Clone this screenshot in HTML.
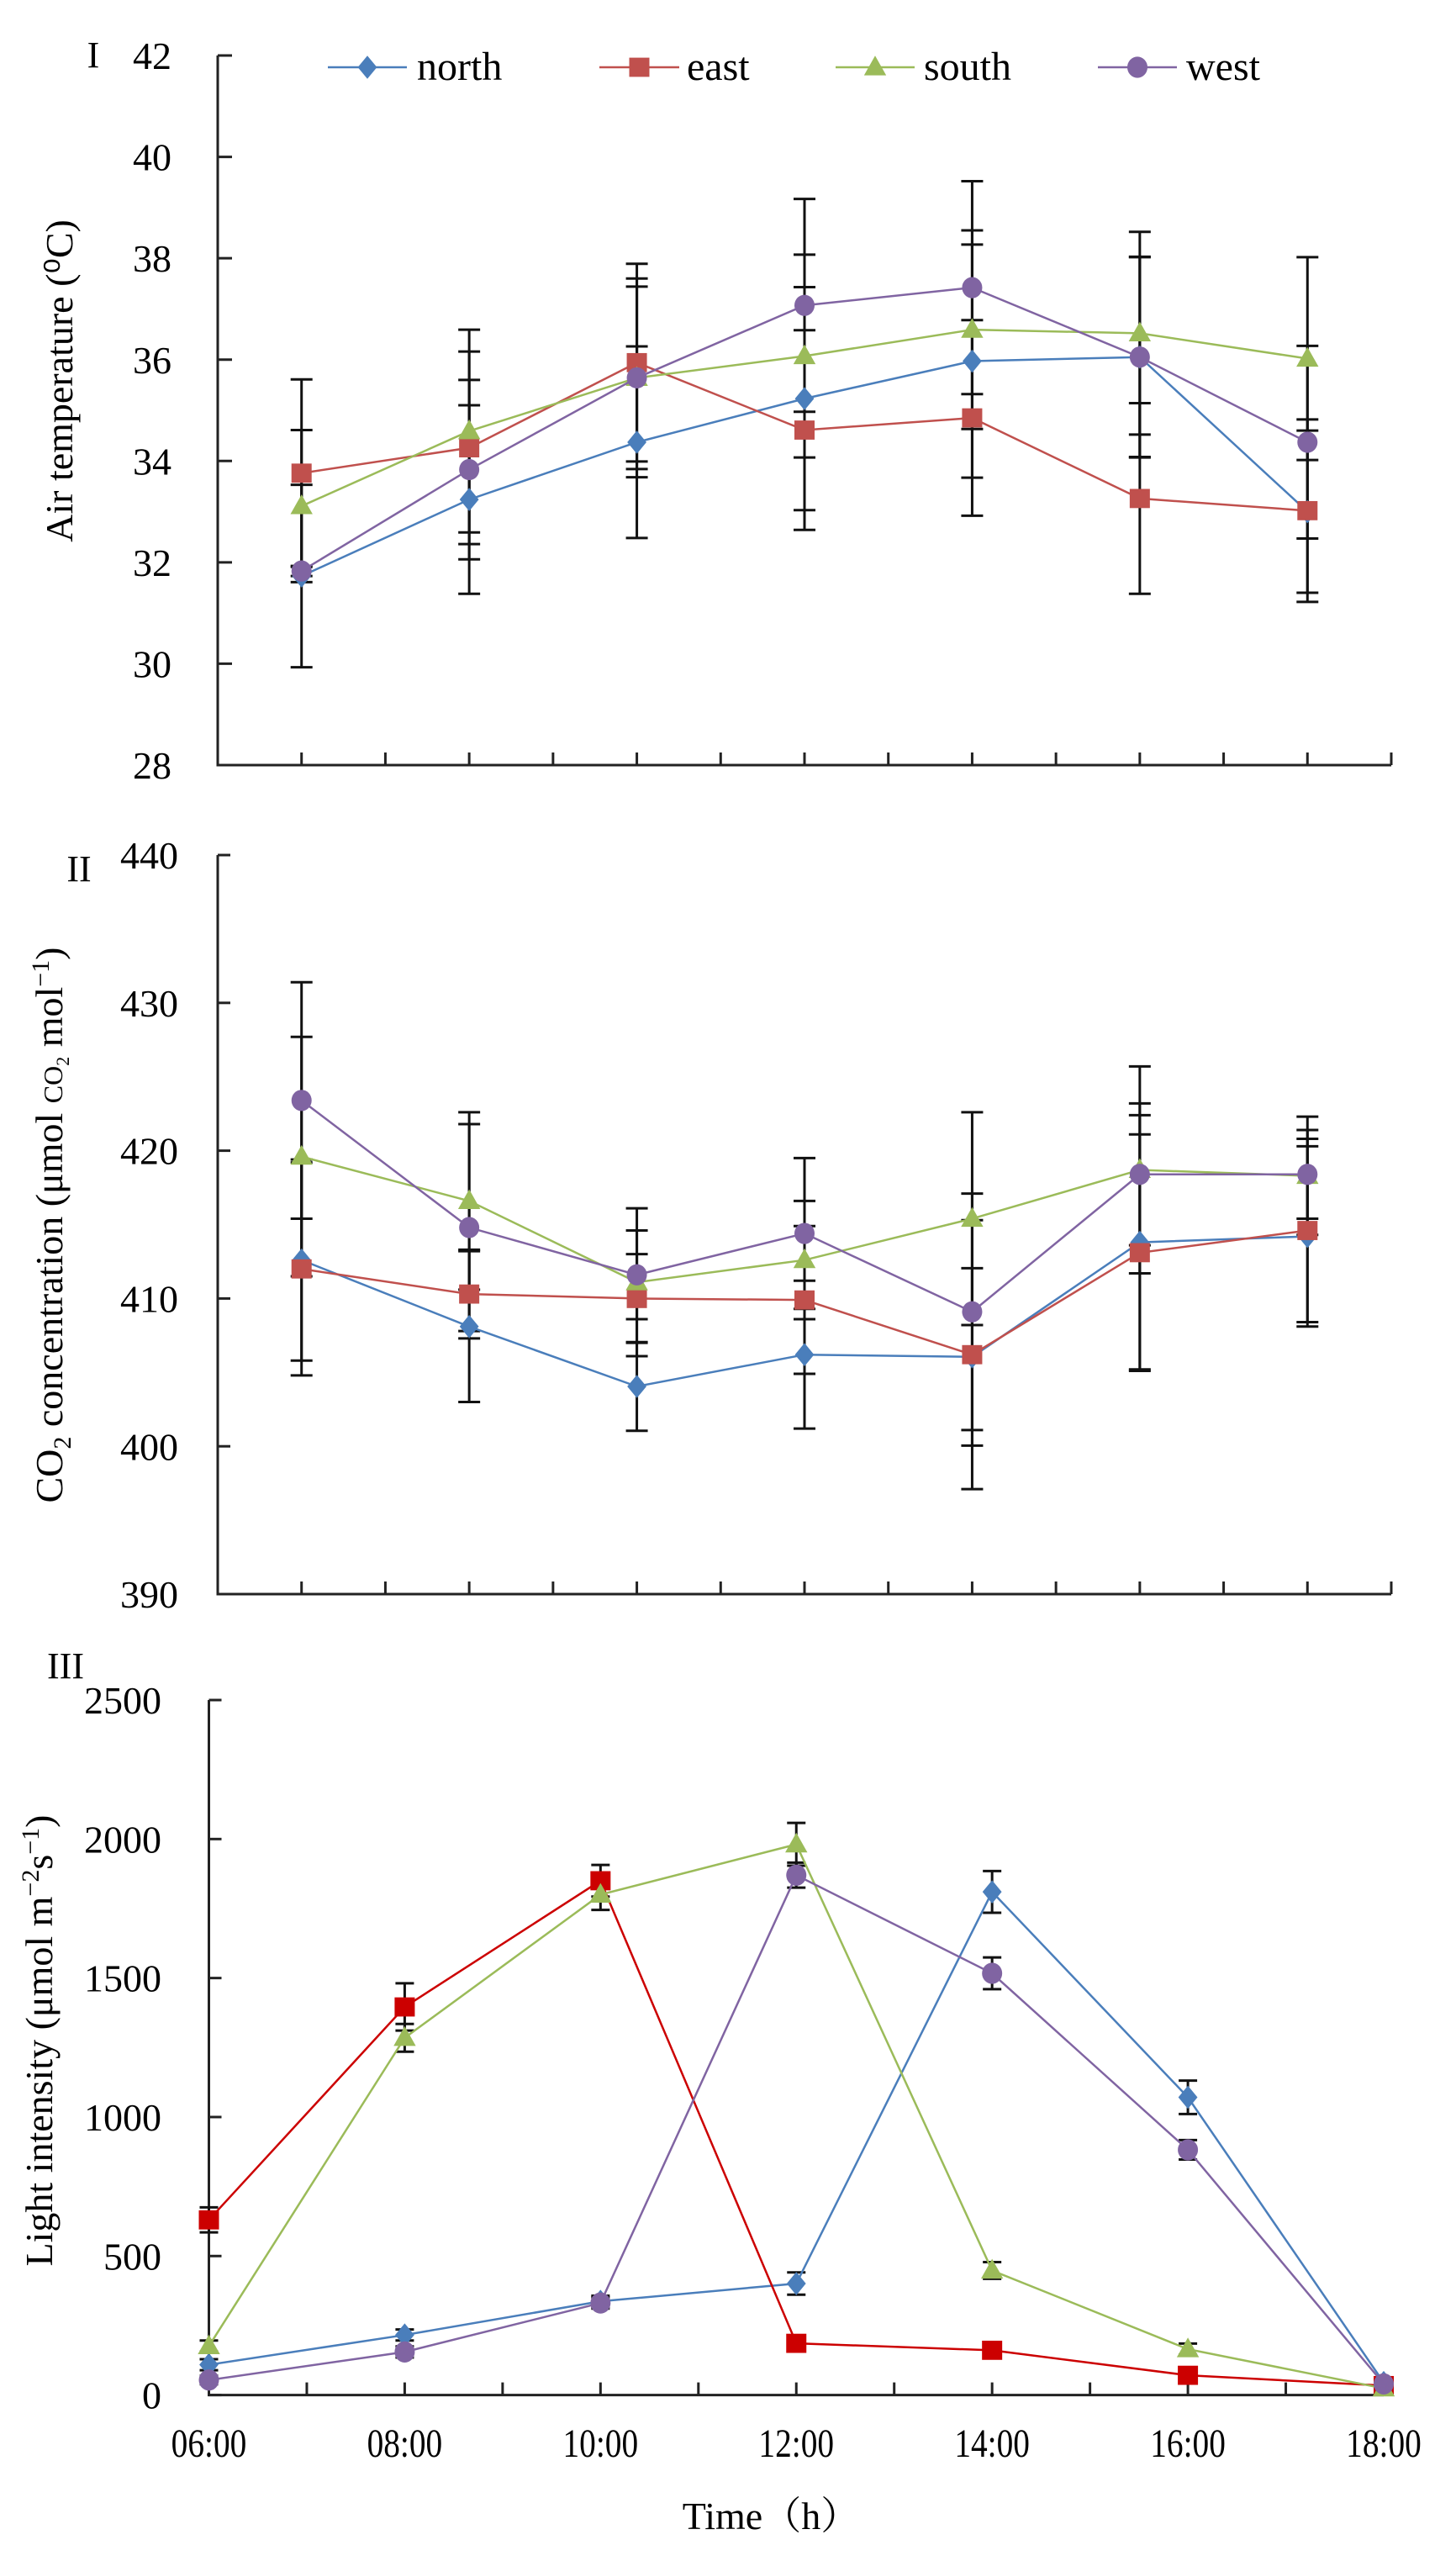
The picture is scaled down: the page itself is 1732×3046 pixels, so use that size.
<!DOCTYPE html>
<html><head><meta charset="utf-8"><style>
html,body{margin:0;padding:0;background:#fff;}
svg{display:block;font-family:"Liberation Serif","Noto Serif CJK SC",serif;}
</style></head><body>
<svg id="chart" width="1732" height="3046" viewBox="0 0 1732 3046" xmlns="http://www.w3.org/2000/svg"></svg>
<script>
// ---------- data ----------
const seriesNames = ["north","east","south","west"];
const seriesColors = ["#4a7ebb","#c0504d","#9bbb59","#8064a2"];
const markers = ["diamond","square","triangle","circle"];

// Panel I: air temperature
const tempNorth = [31.73,33.24,34.37,35.23,35.97,36.05,33.0];
const tempEast  = [33.76,34.26,35.94,34.61,34.85,33.26,33.02];
const tempSouth = [33.11,34.59,35.64,36.07,36.59,36.52,36.02];
const tempWest  = [31.83,33.83,35.64,37.07,37.42,36.05,34.37];
const tempNorthSd = [1.8,1.86,1.89,2.2,2.3,1.97,1.6];
const tempEastSd  = [1.85,1.9,1.95,1.97,1.93,1.88,1.8];
const tempSouthSd = [1.5,2.0,1.96,2.0,1.96,2.0,2.0];
const tempWestSd  = [0.1,1.77,1.8,2.1,2.1,1.98,1.9];
const tempTicks = [28,30,32,34,36,38,40,42];

// Panel II: CO2
const co2North = [412.6,408.1,404.05,406.2,406.05,413.8,414.2];
const co2East  = [412.0,410.3,410.0,409.9,406.2,413.1,414.6];
const co2South = [419.6,416.6,411.1,412.6,415.4,418.7,418.3];
const co2West  = [423.4,414.8,411.6,414.4,409.1,418.4,418.4];
const co2NorthSd = [6.8,5.1,3.0,5.0,6.0,8.6,6.1];
const co2EastSd  = [7.2,3.0,3.0,5.0,9.1,8.0,6.2];
const co2SouthSd = [8.1,6.0,5.0,4.0,7.2,7.0,4.0];
const co2WestSd  = [8.0,7.0,3.0,5.1,8.0,4.8,3.0];
const co2Ticks = [390,400,410,420,430,440];

// Panel III: light intensity
const timeLabels = ["06:00","08:00","10:00","12:00","14:00","16:00","18:00"];
const lightNorth = [109,216,337,401,1810,1071,45];
const lightEast  = [630,1396,1850,186,161,71,34];
const lightSouth = [176,1285,1800,1981,448,165,24];
const lightWest  = [54,155,331,1870,1517,882,40];
const lightNorthSd = [20,20,20,40,75,60,15];
const lightEastSd  = [45,85,57,20,20,15,10];
const lightSouthSd = [20,50,55,77,30,20,10];
const lightWestSd  = [15,20,20,45,57,35,10];
const lightTicks = [0,500,1000,1500,2000,2500];

// ---------- drawing ----------
const NS="http://www.w3.org/2000/svg";
const svg=document.getElementById("chart");
function mk(tag,attrs,parent){const e=document.createElementNS(NS,tag);for(const k in attrs)e.setAttribute(k,attrs[k]);(parent||svg).appendChild(e);return e;}
function txt(s,x,y,size,anchor,parent,extra){const t=mk("text",Object.assign({x:x,y:y,"font-size":size,"text-anchor":anchor||"middle",fill:"#000"},extra||{}),parent);t.textContent=s;return t;}

function marker(g,type,x,y,color,s){
  let e;
  if(type==="diamond")e=mk("polygon",{points:`${x},${y-s*1.15} ${x+s*0.95},${y} ${x},${y+s*1.15} ${x-s*0.95},${y}`,fill:color},g);
  else if(type==="square")e=mk("rect",{x:x-s,y:y-s*0.95,width:2*s,height:1.9*s,fill:color},g);
  else if(type==="triangle")e=mk("polygon",{points:`${x},${y-s*1.15} ${x+s*1.1},${y+s*0.8} ${x-s*1.1},${y+s*0.8}`,fill:color},g);
  else e=mk("ellipse",{cx:x,cy:y,rx:s*1.0,ry:s*1.05,fill:color},g);
  return e;
}

function panel(cfg){
  const g=mk("g",{});
  
  
  const x0=cfg.x0,x1=cfg.x1,yTop=cfg.yTop,yBot=cfg.yBot;
  const ymin=cfg.ticks[0],ymax=cfg.ticks[cfg.ticks.length-1];
  const yS=v=>yBot-(v-ymin)/(ymax-ymin)*(yBot-yTop);
  const xS=cfg.xS;
  const ax=mk("path",{d:`M${x0},${yTop} L${x0},${yBot} L${x1},${yBot}`,stroke:"#222",fill:"none","stroke-width":3},g);
  
  
  cfg.ticks.forEach(v=>{
    const y=yS(v);
    mk("line",{x1:x0,y1:y,x2:x0+cfg.yTickLen,y2:y,stroke:"#222","stroke-width":3},g);
    const t=txt(String(v),cfg.labelX,y+cfg.fs*0.35,cfg.fs,"end",g);
    
    
  });
  cfg.xTicks.forEach(x=>mk("line",{x1:x,y1:yBot,x2:x,y2:yBot-15,stroke:"#222","stroke-width":3},g));
  cfg.series.forEach((vals,si)=>{
    vals.forEach((v,i)=>{
      const sd=cfg.sds[si][i],x=xS(i),ya=yS(v+sd),yb=yS(v-sd),c=cfg.cap;
      const eb=mk("path",{d:`M${x},${ya} L${x},${yb} M${x-c},${ya} L${x+c},${ya} M${x-c},${yb} L${x+c},${yb}`,stroke:"#111","stroke-width":3,fill:"none"},g);
      
      
    });
  });
  cfg.series.forEach((vals,si)=>{
    const col=(cfg.colors||seriesColors)[si];
    const pts=vals.map((v,i)=>xS(i)+","+yS(v)).join(" ");
    const pl=mk("polyline",{points:pts,fill:"none",stroke:col,"stroke-width":2.5},g);
    
    
    vals.forEach((v,i)=>{
      const m=marker(g,markers[si],xS(i),yS(v),col,cfg.ms);
      
      
    });
  });
  return g;
}

// Panel I
const p1x0=259,p1x1=1655,cw1=(p1x1-p1x0)/7;
const ticksHalf1=[];for(let i=0;i<=14;i++)ticksHalf1.push(p1x0+i*cw1/2);
panel({name:"panel-air-temperature",x0:p1x0,x1:p1x1,yTop:66,yBot:910,ticks:tempTicks,
  series:[tempNorth,tempEast,tempSouth,tempWest],sds:[tempNorthSd,tempEastSd,tempSouthSd,tempWestSd],
  xS:i=>p1x0+cw1*(i+0.5),xTicks:ticksHalf1.slice(1),yTickLen:17,labelX:204,fs:46,cap:13,ms:12});
// Panel II
panel({name:"panel-co2",x0:p1x0,x1:p1x1,yTop:1017,yBot:1896,ticks:co2Ticks,
  series:[co2North,co2East,co2South,co2West],sds:[co2NorthSd,co2EastSd,co2SouthSd,co2WestSd],
  xS:i=>p1x0+cw1*(i+0.5),xTicks:ticksHalf1.slice(1),yTickLen:15,labelX:212,fs:46,cap:13,ms:12});
// Panel III
const p3x0=248.5,p3x1=1646,cw3=(p3x1-p3x0)/6;
const ticksHalf3=[];for(let i=0;i<=12;i++)ticksHalf3.push(p3x0+i*cw3/2);
panel({name:"panel-light-intensity",x0:p3x0,x1:p3x1,yTop:2022,yBot:2848.6,ticks:lightTicks,
  series:[lightNorth,lightEast,lightSouth,lightWest],sds:[lightNorthSd,lightEastSd,lightSouthSd,lightWestSd],
  colors:["#4a7ebb","#cc0000","#9bbb59","#8064a2"],
  xS:i=>p3x0+cw3*i,xTicks:ticksHalf3.slice(1),yTickLen:15,labelX:192,fs:46,cap:11,ms:12});
timeLabels.forEach((s,i)=>{
  const cx=p3x0+cw3*i;
  const t=txt(s,cx,2922,48,"middle",null,{"transform":`translate(${cx},2922) scale(0.82,1) translate(${-cx},-2922)`});
  
  
});

function rotTitle(s,x,y,size,name){
  const t=txt(s,0,0,size,"middle",null,{transform:`translate(${x},${y}) rotate(-90)`});
  
  
  return t;
}
let t;
t=rotTitle("Air temperature (\u2070C)",86,453,46,"y-axis-title-temperature");
t=rotTitle("",74,1457,46,"y-axis-title-co2");
t.innerHTML='CO<tspan font-size="30" dy="10">2</tspan><tspan dy="-10"> concentration (\u03bcmol </tspan><tspan font-size="32">CO</tspan><tspan font-size="22" dy="8">2</tspan><tspan dy="-8"> mol</tspan><tspan font-size="30" dy="-16">\u22121</tspan><tspan dy="16">)</tspan>';
t=rotTitle("",62,2427,46,"y-axis-title-light");
t.innerHTML='Light intensity (\u03bcmol m<tspan font-size="30" dy="-16">\u22122</tspan><tspan dy="16">s</tspan><tspan font-size="30" dy="-16">\u22121</tspan><tspan dy="16">)</tspan>';
t=txt("Time\uff08h\uff09",917,3008,46,"middle");


t=txt("I",111,80,44,"middle");


t=txt("II",94,1048,44,"middle");


t=txt("III",78,1996,44,"middle");



// Legend
const legX=[[390,484,496],[713,808,817],[994,1088,1099],[1306,1400,1411]];
seriesNames.forEach((s,i)=>{
  const g=mk("g",{});
  
  
  const [a,b,tx]=legX[i];
  mk("line",{x1:a,y1:80,x2:b,y2:80,stroke:seriesColors[i],"stroke-width":2.5},g);
  marker(g,markers[i],(a+b)/2,80,seriesColors[i],12);
  txt(s,tx,95,48,"start",g);
});
</script>
</body></html>
